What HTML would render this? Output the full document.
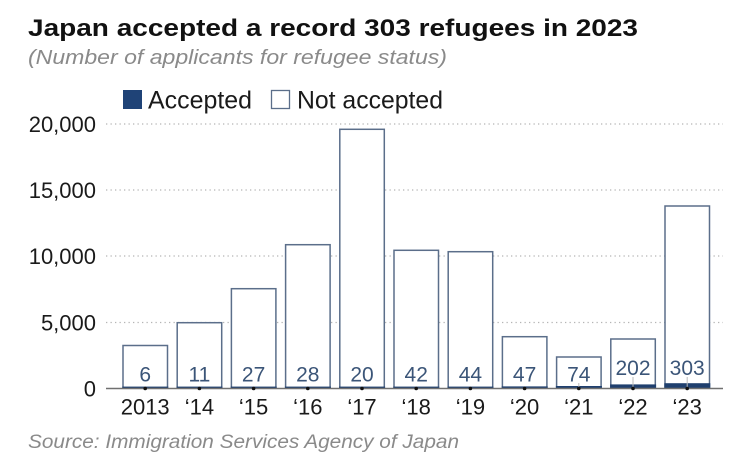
<!DOCTYPE html>
<html><head><meta charset="utf-8"><style>
html,body{margin:0;padding:0;background:#fff;}
svg{display:block;}
</style></head><body>
<svg width="747" height="458" viewBox="0 0 747 458" xmlns="http://www.w3.org/2000/svg" font-family="Liberation Sans, sans-serif">
<rect width="747" height="458" fill="#fff"/>
<text x="28" y="36" font-size="24" font-weight="bold" fill="#111" textLength="610" lengthAdjust="spacingAndGlyphs">Japan accepted a record 303 refugees in 2023</text>
<text x="28" y="64" font-size="20" font-style="italic" fill="#8a8a8a" textLength="419" lengthAdjust="spacingAndGlyphs">(Number of applicants for refugee status)</text>
<!-- legend -->
<rect x="123" y="90" width="19" height="19" fill="#1f4377"/>
<text x="148" y="108.5" font-size="25" fill="#1a1a1a" textLength="104" lengthAdjust="spacingAndGlyphs">Accepted</text>
<rect x="271.5" y="90.5" width="18" height="18" fill="#fff" stroke="#5b6e8a" stroke-width="1.3"/>
<text x="297" y="108.5" font-size="25" fill="#1a1a1a" textLength="146" lengthAdjust="spacingAndGlyphs">Not accepted</text>
<!-- grid -->
<g stroke="#b5b5b5" stroke-width="1.3" stroke-dasharray="1.3 3.2">
<line x1="106" y1="124" x2="723" y2="124"/>
<line x1="106" y1="190" x2="723" y2="190"/>
<line x1="106" y1="256" x2="723" y2="256"/>
<line x1="106" y1="322.5" x2="723" y2="322.5"/>
</g>
<g font-size="22" fill="#1a1a1a" text-anchor="end">
<text x="96" y="132">20,000</text>
<text x="96" y="198">15,000</text>
<text x="96" y="264">10,000</text>
<text x="96" y="330.5">5,000</text>
<text x="96" y="396.5">0</text>
</g>
<!-- bars -->
<g fill="#fff" stroke="#5b6e8a" stroke-width="1.5">
<rect x="123" y="345.5" width="44.5" height="42.5"/>
<rect x="177.2" y="322.7" width="44.5" height="65.3"/>
<rect x="231.4" y="288.7" width="44.5" height="99.3"/>
<rect x="285.6" y="244.7" width="44.5" height="143.3"/>
<rect x="339.8" y="129.3" width="44.5" height="258.7"/>
<rect x="394" y="250.3" width="44.5" height="137.7"/>
<rect x="448.2" y="251.7" width="44.5" height="136.3"/>
<rect x="502.4" y="336.7" width="44.5" height="51.3"/>
<rect x="556.6" y="357" width="44.5" height="31"/>
<rect x="610.8" y="339" width="44.5" height="49"/>
<rect x="665" y="206" width="44.5" height="182"/>
</g>
<!-- accepted -->
<g fill="#1f3f6e">
<rect x="122.3" y="386.6" width="46" height="1.8"/>
<rect x="176.5" y="386.6" width="46" height="1.8"/>
<rect x="230.7" y="386.6" width="46" height="1.8"/>
<rect x="284.9" y="386.6" width="46" height="1.8"/>
<rect x="339.1" y="386.6" width="46" height="1.8"/>
<rect x="393.3" y="386.6" width="46" height="1.8"/>
<rect x="447.5" y="386.6" width="46" height="1.8"/>
<rect x="501.7" y="386.4" width="46" height="2"/>
<rect x="555.9" y="386" width="46" height="2.4"/>
<rect x="610.1" y="384.4" width="46" height="4"/>
<rect x="664.3" y="383.2" width="46" height="5.2"/>
</g>
<!-- leader lines -->
<g stroke="#bbb" stroke-width="1">
<line x1="633" y1="377" x2="633" y2="388"/>
<line x1="687.2" y1="377" x2="687.2" y2="388"/>
<line x1="578.8" y1="383" x2="578.8" y2="388"/>
</g>
<!-- axis -->
<line x1="106" y1="388.5" x2="723" y2="388.5" stroke="#707070" stroke-width="1.6"/>
<g fill="#111">
<circle cx="145.2" cy="388.5" r="1.8"/>
<circle cx="199.4" cy="388.5" r="1.8"/>
<circle cx="253.6" cy="388.5" r="1.8"/>
<circle cx="307.8" cy="388.5" r="1.8"/>
<circle cx="362" cy="388.5" r="1.8"/>
<circle cx="416.2" cy="388.5" r="1.8"/>
<circle cx="470.4" cy="388.5" r="1.8"/>
<circle cx="524.6" cy="388.5" r="1.8"/>
<circle cx="578.8" cy="388.5" r="1.8"/>
<circle cx="633" cy="388.5" r="1.8"/>
<circle cx="687.2" cy="388.5" r="1.8"/>
</g>
<!-- value labels -->
<g font-size="21" fill="#3b5578" text-anchor="middle">
<text x="145.2" y="381.5">6</text>
<text x="199.4" y="381.5">11</text>
<text x="253.6" y="381.5">27</text>
<text x="307.8" y="381.5">28</text>
<text x="362" y="381.5">20</text>
<text x="416.2" y="381.5">42</text>
<text x="470.4" y="381.5">44</text>
<text x="524.6" y="381.5">47</text>
<text x="578.8" y="381.5">74</text>
<text x="633" y="375">202</text>
<text x="687.2" y="375">303</text>
</g>
<!-- x labels -->
<g font-size="22" fill="#1a1a1a" text-anchor="middle">
<text x="145.2" y="414.5">2013</text>
<text x="199.4" y="414.5">‘14</text>
<text x="253.6" y="414.5">‘15</text>
<text x="307.8" y="414.5">‘16</text>
<text x="362" y="414.5">‘17</text>
<text x="416.2" y="414.5">‘18</text>
<text x="470.4" y="414.5">‘19</text>
<text x="524.6" y="414.5">‘20</text>
<text x="578.8" y="414.5">‘21</text>
<text x="633" y="414.5">‘22</text>
<text x="687.2" y="414.5">‘23</text>
</g>
<text x="28" y="448" font-size="19" font-style="italic" fill="#8a8a8a" textLength="431" lengthAdjust="spacingAndGlyphs">Source: Immigration Services Agency of Japan</text>
</svg>
</body></html>
